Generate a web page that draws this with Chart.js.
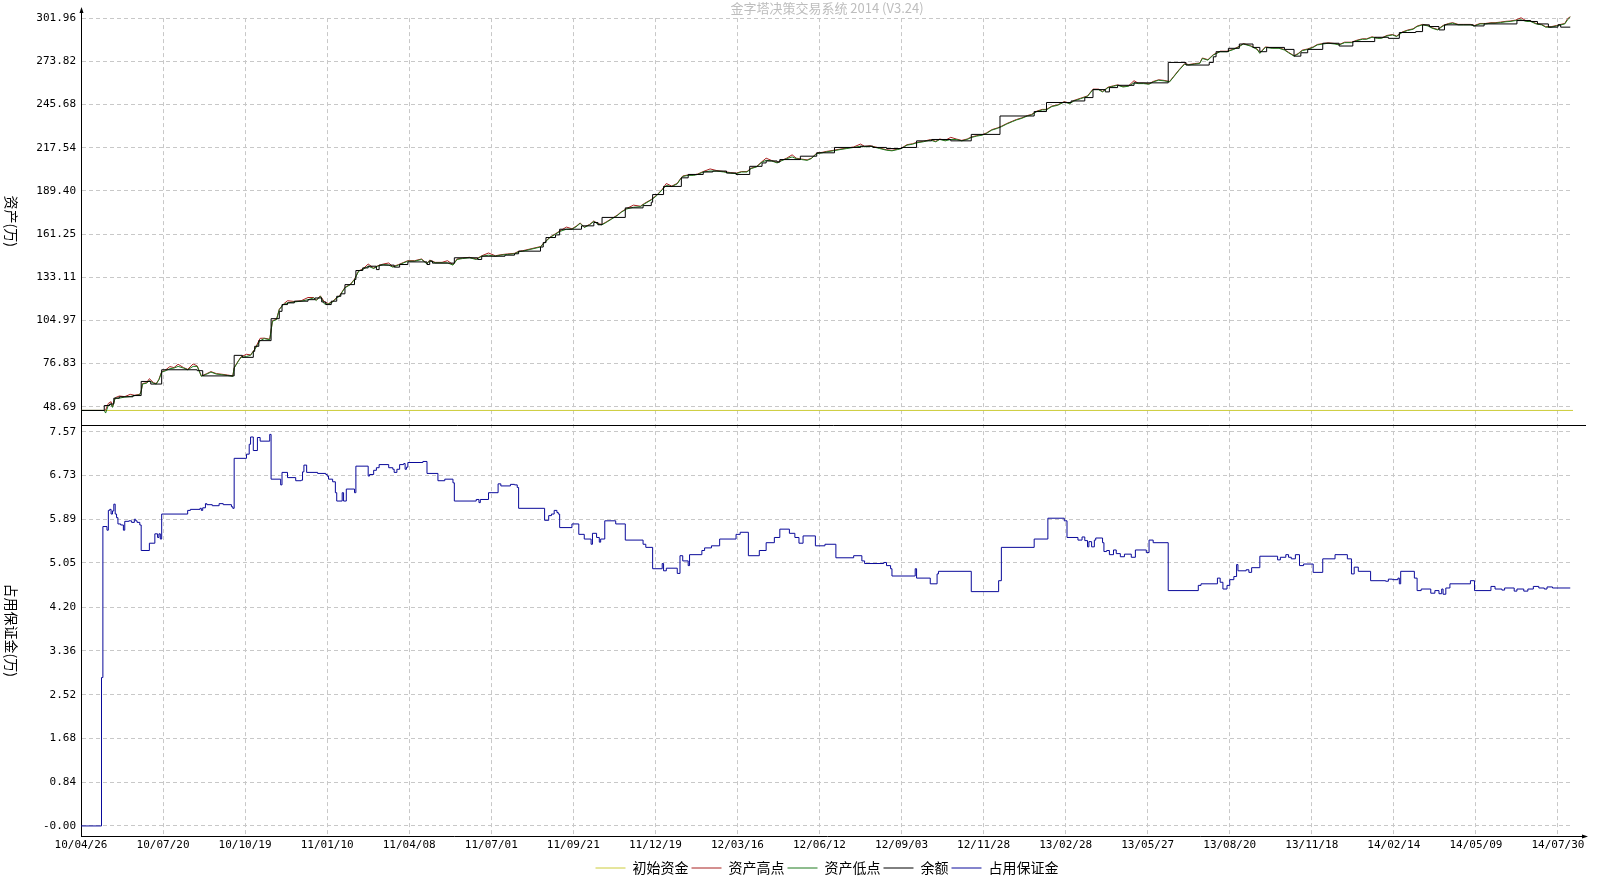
<!DOCTYPE html>
<html>
<head>
<meta charset="utf-8">
<script src="https://cdn.jsdelivr.net/npm/chart.js@4.4.1/dist/chart.umd.min.js"></script>
<style>
  html, body { margin: 0; padding: 0; background: #fff; }
  #wrap { width: 1597px; height: 880px; }
</style>
</head>
<body>
<div id="wrap"><canvas id="equityChart" width="1597" height="880"></canvas></div>
<script>
// ---- chart data (trading-day index on x) ----
const chartTitle = '金字塔决策交易系统 2014 (V3.24)';
const topAxisTitle = '资产(万)';
const botAxisTitle = '占用保证金(万)';
const seriesNames = ['初始资金', '资产高点', '资产低点', '余额', '占用保证金'];

const dateLabels = ['10/04/26', '10/07/20', '10/10/19', '11/01/10', '11/04/08', '11/07/01', '11/09/21',
  '11/12/19', '12/03/16', '12/06/12', '12/09/03', '12/11/28', '13/02/28', '13/05/27', '13/08/20',
  '13/11/18', '14/02/14', '14/05/09', '14/07/30'];
const tickDays = [0, 60, 120, 180, 240, 300, 360, 420, 480, 540, 600, 660, 720, 780, 840, 900, 960, 1020, 1080];
const lastDay = 1091;

const topTickLabels = ['48.69', '76.83', '104.97', '133.11', '161.25', '189.40', '217.54', '245.68', '273.82', '301.96'];
const botTickLabels = ['-0.00', '0.84', '1.68', '2.52', '3.36', '4.20', '5.05', '5.89', '6.73', '7.57'];

const initialCapital = 46.3;

const assetDays = [0, 17, 18, 20, 22, 23, 25, 28, 32, 36, 39, 43, 44, 45, 48, 50, 53, 55, 57, 59, 61, 65, 68, 71, 75, 78, 82, 85, 88, 92, 95, 99,
  103, 107, 111, 112, 115, 117, 121, 124, 127, 131, 134, 138, 140, 143, 145, 148, 151, 156, 161, 166, 170, 172, 175, 178, 181, 184, 187, 189,
  193, 197, 200, 203, 206, 210, 214, 217, 221, 225, 228, 232, 236, 239, 244, 249, 253, 255, 259, 264, 268, 272, 275, 279, 284, 289, 293, 298,
  303, 307, 312, 317, 320, 323, 336, 339, 343, 347, 350, 355, 359, 362, 365, 368, 372, 375, 378, 381, 384, 388, 392, 395, 399, 404, 409, 412,
  417, 421, 425, 428, 432, 436, 438, 440, 444, 448, 451, 455, 460, 465, 470, 475, 479, 483, 487, 490, 494, 498, 501, 505, 509, 512, 516, 520,
  523, 527, 531, 534, 538, 542, 545, 550, 555, 560, 565, 570, 573, 577, 581, 584, 589, 593, 597, 600, 604, 608, 611, 616, 621, 625, 628, 632,
  636, 640, 644, 648, 651, 655, 659, 662, 666, 670, 673, 677, 681, 684, 688, 692, 695, 699, 703, 706, 710, 714, 719, 723, 726, 731, 736, 740,
  744, 747, 751, 755, 758, 762, 766, 770, 773, 777, 781, 784, 788, 792, 796, 799, 803, 807, 810, 814, 818, 820, 824, 828, 833, 838, 843, 846,
  850, 855, 860, 862, 866, 871, 876, 880, 883, 887, 890, 893, 897, 901, 904, 908, 912, 917, 920, 924, 929, 933, 937, 940, 944, 948, 951, 955,
  959, 962, 966, 970, 974, 977, 981, 985, 988, 992, 996, 1000, 1003, 1007, 1011, 1016, 1019, 1023, 1027, 1031, 1034, 1038, 1042, 1045, 1049,
  1053, 1057, 1060, 1064, 1068, 1071, 1075, 1079, 1082, 1085, 1087, 1089];

const assetLow = [46.3, 46.3, 44.6, 49.6, 50.4, 48.3, 54.3, 54.3, 55.0, 55.4, 55.9, 56.5, 58.7, 63.5, 64.1, 65.7, 64.1, 63.5, 66.3, 71.3, 71.8,
  73.5, 73.9, 75.0, 73.9, 72.8, 75.0, 75.0, 68.5, 70.0, 71.3, 70.0, 69.6, 69.1, 68.5, 73.9, 78.3, 80.9, 81.5, 82.2, 85.9, 91.8, 93.1, 92.4,
  104.4, 105.5, 112.0, 115.3, 116.4, 117.0, 117.5, 118.5, 119.6, 117.9, 120.7, 115.7, 115.7, 117.0, 119.6, 120.7, 126.2, 128.3, 131.6, 137.0,
  138.1, 140.3, 138.8, 140.3, 141.4, 141.0, 139.7, 141.0, 142.5, 143.6, 143.6, 144.7, 141.8, 144.0, 142.5, 142.5, 142.5, 141.0, 144.7, 145.3,
  145.8, 144.7, 146.8, 147.5, 146.8, 147.5, 148.0, 148.4, 149.7, 150.1, 152.8, 155.7, 159.0, 161.2, 162.9, 164.4, 164.4, 166.0, 168.2, 165.5,
  167.3, 169.5, 167.7, 167.3, 168.8, 171.0, 173.2, 175.4, 177.6, 178.7, 179.1, 180.9, 183.5, 186.3, 190.1, 192.9, 192.2, 194.0, 196.6, 198.8,
  199.5, 199.5, 200.1, 201.7, 202.3, 202.3, 201.7, 201.0, 200.6, 201.7, 201.7, 203.9, 205.0, 208.2, 209.3, 208.9, 207.6, 208.9, 210.4, 211.5,
  210.4, 209.8, 209.3, 210.4, 213.7, 214.2, 214.8, 215.5, 216.3, 217.0, 217.7, 218.5, 218.1, 218.5, 217.7, 217.0, 215.9, 215.5, 216.3, 217.0,
  219.2, 219.8, 220.7, 221.4, 222.5, 221.4, 222.9, 222.0, 222.9, 222.9, 222.0, 222.9, 224.2, 225.1, 225.7, 226.8, 229.0, 230.1, 231.2, 233.0,
  234.5, 235.6, 236.7, 238.2, 238.9, 241.1, 242.2, 242.2, 244.4, 245.1, 247.3, 246.2, 248.0, 249.5, 251.0, 255.4, 255.4, 253.9, 256.7, 257.6,
  258.2, 257.1, 257.6, 259.8, 259.3, 259.3, 258.9, 260.4, 261.5, 261.1, 260.4, 263.7, 268.1, 272.0, 271.4, 272.0, 272.4, 275.7, 274.6, 277.9,
  280.1, 280.1, 281.6, 282.9, 285.1, 283.8, 281.6, 279.0, 282.9, 282.3, 282.3, 281.2, 279.4, 277.2, 278.6, 280.8, 281.6, 282.9, 284.5, 285.1,
  285.6, 285.1, 284.5, 286.0, 286.0, 287.3, 288.2, 288.2, 289.5, 288.8, 288.8, 290.4, 291.0, 290.0, 292.6, 293.9, 294.7, 296.5, 297.6, 296.9,
  295.4, 294.3, 296.9, 298.2, 298.7, 297.6, 297.6, 297.6, 296.9, 298.2, 298.2, 298.7, 298.7, 299.1, 299.6, 299.8, 300.4, 300.9, 299.8, 299.8,
  298.2, 297.6, 296.1, 296.1, 296.9, 297.6, 298.2, 300.9, 302.6];

const assetHigh = [46.3, 46.3, 46.5, 50.9, 52.0, 48.6, 54.6, 55.7, 55.3, 56.8, 56.2, 56.8, 59.0, 63.8, 64.4, 67.0, 64.4, 63.8, 66.6, 71.6, 72.1,
  74.9, 74.2, 76.4, 74.2, 73.1, 76.6, 75.3, 68.8, 70.3, 71.6, 70.3, 69.9, 69.4, 68.8, 74.2, 78.6, 81.2, 82.9, 82.5, 86.2, 93.3, 93.4, 92.7,
  104.7, 105.8, 112.3, 115.6, 117.8, 117.3, 117.8, 119.9, 119.9, 118.2, 121.0, 117.0, 116.0, 117.3, 119.9, 121.0, 126.5, 128.6, 131.9, 137.3,
  138.4, 141.7, 139.1, 140.6, 141.7, 142.4, 140.0, 141.3, 142.8, 143.9, 143.9, 145.0, 142.1, 144.3, 142.8, 142.8, 143.9, 141.3, 145.0, 145.6,
  146.1, 145.0, 147.1, 148.9, 147.1, 147.8, 148.3, 148.7, 150.0, 150.4, 153.1, 156.0, 159.3, 161.5, 163.2, 165.8, 164.7, 166.3, 168.5, 165.8,
  167.6, 169.8, 168.0, 167.6, 169.1, 171.3, 173.5, 175.7, 177.9, 180.1, 179.4, 181.2, 183.8, 186.6, 190.4, 194.2, 192.5, 194.3, 196.9, 199.1,
  199.8, 199.8, 200.4, 202.0, 203.7, 202.6, 202.0, 201.3, 200.9, 202.0, 202.0, 204.2, 205.3, 208.5, 210.7, 209.2, 207.9, 209.2, 210.7, 212.9,
  210.7, 210.1, 209.6, 210.7, 214.0, 214.5, 215.1, 215.8, 216.6, 217.3, 218.0, 219.9, 218.4, 218.8, 218.0, 217.3, 216.2, 215.8, 216.6, 217.3,
  219.5, 220.1, 221.0, 221.7, 222.8, 221.7, 223.2, 222.3, 224.3, 223.2, 222.3, 223.2, 224.5, 225.4, 226.0, 227.1, 229.3, 230.4, 231.5, 233.3,
  234.8, 235.9, 237.0, 238.5, 239.2, 241.4, 242.5, 242.5, 244.7, 245.4, 247.6, 246.5, 248.3, 249.8, 251.3, 255.7, 255.7, 254.2, 257.0, 257.9,
  258.5, 257.4, 257.9, 261.2, 259.6, 259.6, 259.2, 260.7, 261.8, 261.4, 260.7, 264.0, 268.4, 272.3, 271.7, 272.3, 272.7, 276.0, 274.9, 278.2,
  280.4, 280.4, 281.9, 283.2, 285.4, 284.1, 281.9, 279.3, 283.2, 282.6, 282.6, 281.5, 279.7, 277.5, 278.9, 281.1, 281.9, 283.2, 284.8, 285.4,
  285.9, 285.4, 284.8, 286.3, 286.3, 287.6, 288.5, 288.5, 289.8, 289.1, 289.1, 290.7, 291.3, 290.3, 292.9, 294.2, 295.0, 296.8, 297.9, 297.2,
  295.7, 294.6, 297.2, 298.5, 299.0, 297.9, 297.9, 297.9, 297.2, 298.5, 298.5, 299.0, 299.0, 299.4, 299.9, 300.1, 300.7, 302.2, 300.1, 300.1,
  298.5, 297.9, 296.4, 296.4, 297.2, 297.9, 298.5, 301.6, 302.9];

const balanceDays = [0, 17, 21, 24, 28, 38, 44, 51, 59, 85, 89, 112, 118, 126, 127, 130, 139, 145, 147, 151, 156, 166, 171, 176, 179, 183, 187,
  190, 193, 200, 201, 206, 210, 216, 218, 229, 233, 239, 253, 255, 257, 273, 290, 293, 310, 317, 320, 336, 338, 340, 347, 350, 366, 375, 378,
  381, 398, 411, 417, 418, 426, 439, 444, 455, 462, 472, 479, 489, 498, 501, 509, 511, 526, 538, 551, 570, 579, 589, 600, 611, 622, 636, 651,
  672, 697, 706, 724, 734, 740, 749, 752, 758, 770, 795, 808, 825, 828, 830, 839, 847, 857, 862, 867, 880, 887, 892, 897, 908, 920, 930, 946,
  956, 964, 976, 981, 986, 993, 997, 1018, 1026, 1050, 1060, 1065, 1073, 1080, 1082, 1089];
const balanceValues = [46.3, 49.5, 50.5, 54.3, 55.2, 56.0, 65.2, 63.5, 72.8, 72.2, 68.8, 82.2, 80.9, 84.8, 88.1, 91.8, 106.1, 110.9, 115.3,
  116.4, 117.5, 118.5, 119.6, 117.0, 115.3, 117.5, 120.7, 122.3, 128.3, 131.6, 137.5, 139.2, 140.3, 138.1, 141.0, 139.7, 141.4, 143.1, 141.4,
  143.6, 142.3, 145.8, 144.7, 146.8, 147.5, 148.4, 150.1, 152.8, 155.7, 159.0, 160.7, 164.4, 166.6, 168.8, 167.3, 172.1, 178.3, 179.8, 182.0,
  187.0, 192.3, 197.9, 200.1, 201.7, 202.3, 201.0, 200.1, 205.4, 207.6, 208.9, 208.2, 209.8, 212.0, 214.2, 217.7, 218.5, 217.7, 217.0, 217.7,
  222.0, 222.9, 222.0, 226.2, 238.2, 241.1, 247.0, 248.0, 250.2, 255.4, 253.9, 256.7, 258.2, 259.8, 273.1, 271.4, 273.1, 276.8, 280.1, 282.3,
  285.1, 282.9, 280.1, 282.9, 281.6, 277.2, 279.4, 281.6, 285.6, 283.8, 286.7, 289.5, 288.8, 292.6, 293.2, 297.6, 296.5, 294.3, 297.6, 296.9,
  298.2, 300.4, 299.8, 298.2, 296.1, 297.6, 296.1, 296.1];

const marginDays = [0, 15, 16, 19, 20, 21, 22, 23, 24, 25, 26, 27, 29, 31, 32, 35, 37, 39, 40, 41, 43, 44, 50, 54, 56, 57, 58, 59, 78, 80, 87,
  88, 89, 91, 92, 96, 101, 104, 110, 111, 112, 121, 123, 124, 126, 129, 131, 138, 139, 146, 147, 151, 157, 161, 162, 163, 165, 173, 179, 180,
  181, 184, 186, 187, 191, 192, 194, 200, 201, 210, 211, 214, 216, 218, 225, 228, 229, 231, 233, 236, 237, 238, 239, 250, 253, 261, 266, 272,
  273, 289, 291, 292, 298, 305, 307, 314, 317, 319, 320, 339, 342, 344, 346, 348, 349, 350, 359, 364, 368, 373, 374, 377, 379, 380, 383, 391,
  398, 411, 413, 418, 425, 426, 428, 436, 438, 440, 444, 445, 454, 456, 461, 467, 479, 482, 488, 496, 501, 507, 511, 518, 522, 525, 528, 537,
  544, 552, 565, 571, 573, 587, 589, 592, 593, 610, 611, 621, 626, 627, 651, 671, 673, 697, 707, 719, 721, 729, 732, 734, 736, 737, 739, 741,
  742, 747, 748, 750, 752, 755, 757, 760, 763, 768, 771, 779, 781, 784, 795, 817, 819, 831, 833, 835, 838, 840, 843, 845, 846, 852, 854, 856,
  862, 875, 877, 881, 883, 885, 888, 891, 894, 901, 908, 917, 926, 929, 931, 934, 943, 954, 956, 959, 963, 964, 965, 975, 977, 980, 987, 990,
  993, 995, 996, 998, 1001, 1016, 1019, 1031, 1034, 1039, 1041, 1048, 1050, 1055, 1058, 1062, 1066, 1070, 1072, 1076, 1089];
const marginValues = [0.00, 2.85, 5.75, 5.68, 6.06, 6.08, 5.99, 6.05, 6.18, 5.99, 5.92, 5.80, 5.78, 5.68, 5.85, 5.86, 5.83, 5.89, 5.86, 5.83,
  5.78, 5.29, 5.43, 5.61, 5.54, 5.61, 5.51, 5.99, 6.06, 6.08, 6.10, 6.06, 6.11, 6.19, 6.17, 6.15, 6.19, 6.17, 6.13, 6.10, 7.06, 7.14, 7.33,
  7.47, 7.21, 7.46, 7.39, 7.52, 6.66, 6.55, 6.79, 6.69, 6.63, 6.64, 6.80, 6.93, 6.79, 6.77, 6.75, 6.72, 6.66, 6.61, 6.40, 6.24, 6.40, 6.24,
  6.47, 6.40, 6.91, 6.72, 6.75, 6.83, 6.88, 6.94, 6.88, 6.85, 6.79, 6.85, 6.94, 6.96, 6.85, 6.89, 6.98, 7.00, 6.77, 6.63, 6.66, 6.59, 6.24,
  6.27, 6.21, 6.27, 6.40, 6.57, 6.53, 6.56, 6.55, 6.50, 6.10, 5.87, 5.96, 5.99, 6.06, 6.02, 5.99, 5.73, 5.80, 5.60, 5.51, 5.41, 5.62, 5.54,
  5.45, 5.51, 5.86, 5.80, 5.49, 5.41, 5.35, 4.94, 5.04, 4.90, 4.95, 4.85, 5.19, 5.09, 5.00, 5.21, 5.29, 5.34, 5.38, 5.51, 5.60, 5.64, 5.19,
  5.29, 5.44, 5.54, 5.70, 5.62, 5.54, 5.43, 5.57, 5.38, 5.41, 5.15, 5.19, 5.09, 5.04, 5.06, 5.00, 4.94, 4.80, 4.94, 4.76, 4.65, 4.84, 4.89,
  4.50, 4.71, 5.35, 5.51, 5.91, 5.86, 5.54, 5.49, 5.55, 5.48, 5.36, 5.46, 5.36, 5.49, 5.53, 5.44, 5.27, 5.29, 5.21, 5.30, 5.23, 5.17, 5.22,
  5.16, 5.30, 5.25, 5.49, 5.44, 4.52, 4.62, 4.65, 4.76, 4.68, 4.55, 4.62, 4.73, 4.79, 5.02, 4.90, 4.92, 4.87, 4.96, 5.18, 5.11, 5.16, 5.21,
  5.16, 5.13, 5.21, 5.00, 5.03, 4.87, 5.13, 5.21, 5.13, 4.84, 4.97, 4.89, 4.71, 4.70, 4.74, 4.73, 4.76, 4.65, 4.89, 4.76, 4.52, 4.55, 4.47,
  4.52, 4.46, 4.55, 4.45, 4.57, 4.65, 4.71, 4.52, 4.60, 4.55, 4.53, 4.57, 4.51, 4.55, 4.51, 4.55, 4.60, 4.57, 4.55, 4.59, 4.57, 4.57];

// ---- helpers ----
function pairs(xs, ys) {
    return xs.map((x, i) => ({ x: x, y: ys[i] }));
}

const monoFont = { family: '"DejaVu Sans Mono", monospace', size: 11 };
const cjkFamily = '"Noto Sans CJK SC", sans-serif';
const gridColor = '#c8c8c8';

// decorations: axis arrows, panel separator, rotated axis titles
const decorPlugin = {
    id: 'decor',
    afterDraw(chart) {
        const { ctx, chartArea } = chart;
        const yT = chart.scales.yTop;
        const yB = chart.scales.yBot;
        const ax = Math.round(chartArea.left) + 0.5;
        const by = Math.round(chartArea.bottom) + 0.5;
        const sy = Math.round(yB.top) + 0.5;
        const rightEnd = chartArea.right + 13;

        ctx.save();
        ctx.strokeStyle = '#000';
        ctx.fillStyle = '#000';
        ctx.lineWidth = 1;

        // line between the two panels
        ctx.beginPath();
        ctx.moveTo(ax, sy);
        ctx.lineTo(rightEnd, sy);
        ctx.stroke();

        // axis extensions + arrow heads
        ctx.beginPath();
        ctx.moveTo(ax, chartArea.top);
        ctx.lineTo(ax, chartArea.top - 9);
        ctx.moveTo(chartArea.right, by);
        ctx.lineTo(rightEnd, by);
        ctx.stroke();

        ctx.beginPath();
        ctx.moveTo(ax, chartArea.top - 11);
        ctx.lineTo(ax - 2, chartArea.top - 5);
        ctx.lineTo(ax + 2, chartArea.top - 5);
        ctx.closePath();
        ctx.fill();

        ctx.beginPath();
        ctx.moveTo(rightEnd + 2, by);
        ctx.lineTo(rightEnd - 4, by - 2);
        ctx.lineTo(rightEnd - 4, by + 2);
        ctx.closePath();
        ctx.fill();

        // vertical axis titles, reading top to bottom
        ctx.font = '14px ' + cjkFamily;
        ctx.textAlign = 'center';
        ctx.textBaseline = 'middle';
        [[yT, topAxisTitle], [yB, botAxisTitle]].forEach(([sc, txt]) => {
            ctx.save();
            ctx.translate(11, (sc.top + sc.bottom) / 2);
            ctx.rotate(Math.PI / 2);
            ctx.fillText(txt, 0, 0);
            ctx.restore();
        });
        ctx.restore();
    }
};

const ctx = document.getElementById('equityChart').getContext('2d');
new Chart(ctx, {
    type: 'line',
    data: {
        datasets: [
            {
                label: seriesNames[0],
                data: [{ x: 0, y: initialCapital }, { x: lastDay, y: initialCapital }],
                borderColor: '#cccc3a',
                yAxisID: 'yTop',
                order: 4
            },
            {
                label: seriesNames[1],
                data: pairs(assetDays, assetHigh),
                borderColor: '#a82020',
                yAxisID: 'yTop',
                order: 3
            },
            {
                label: seriesNames[2],
                data: pairs(assetDays, assetLow),
                borderColor: '#1f7a1f',
                yAxisID: 'yTop',
                order: 2
            },
            {
                label: seriesNames[3],
                data: pairs(balanceDays, balanceValues),
                borderColor: '#000000',
                stepped: true,
                yAxisID: 'yTop',
                order: 1
            },
            {
                label: seriesNames[4],
                data: pairs(marginDays, marginValues),
                borderColor: '#0a0a9a',
                stepped: true,
                yAxisID: 'yBot',
                order: 0
            }
        ]
    },
    options: {
        responsive: false,
        animation: false,
        devicePixelRatio: 1,
        elements: {
            point: { radius: 0 },
            line: { borderWidth: 1, tension: 0, fill: false }
        },
        datasets: { line: { clip: 4 } },
        layout: { padding: { left: 0, right: 24, top: 0, bottom: -5 } },
        plugins: {
            title: {
                display: true,
                text: chartTitle,
                color: '#bdbdbd',
                fullSize: false,
                padding: { top: 0, bottom: 2.5 },
                font: { family: cjkFamily, size: 13, weight: 'normal', lineHeight: 1.2 }
            },
            legend: {
                position: 'bottom',
                fullSize: false,
                labels: {
                    usePointStyle: true,
                    pointStyle: 'line',
                    pointStyleWidth: 30,
                    padding: 3,
                    color: '#000',
                    font: { family: cjkFamily, size: 14 },
                    sort: (a, b) => a.datasetIndex - b.datasetIndex
                }
            },
            tooltip: { enabled: false }
        },
        scales: {
            x: {
                type: 'linear',
                position: 'bottom',
                min: 0,
                max: lastDay,
                afterBuildTicks: s => { s.ticks = tickDays.map(v => ({ value: v })); },
                afterFit: s => { s.height = 22; },
                ticks: {
                    autoSkip: false,
                    maxRotation: 0,
                    padding: 3,
                    color: '#000',
                    font: monoFont,
                    callback: (v, i) => dateLabels[i]
                },
                grid: { color: gridColor, drawTicks: false },
                border: { color: '#000', width: 1, dash: [4, 3] }
            },
            yTop: {
                type: 'linear',
                position: 'left',
                stack: 'panels',
                stackWeight: 405,
                weight: 2,
                min: 37.11,
                max: 302.0,
                afterBuildTicks: s => { s.ticks = topTickLabels.map(t => ({ value: Number(t) })); },
                afterFit: s => { s.width = 81; },
                ticks: {
                    padding: 5,
                    color: '#000',
                    font: monoFont,
                    callback: (v, i) => topTickLabels[i]
                },
                grid: { color: gridColor, drawTicks: false },
                border: { color: '#000', width: 1, dash: [4, 3] }
            },
            yBot: {
                type: 'linear',
                position: 'left',
                stack: 'panels',
                stackWeight: 410,
                weight: 1,
                min: -0.193,
                max: 7.709,
                afterBuildTicks: s => { s.ticks = botTickLabels.map(t => ({ value: Number(t) })); },
                afterFit: s => { s.width = 81; },
                ticks: {
                    padding: 5,
                    color: '#000',
                    font: monoFont,
                    callback: (v, i) => botTickLabels[i]
                },
                grid: { color: gridColor, drawTicks: false },
                border: { color: '#000', width: 1, dash: [4, 3] }
            }
        }
    },
    plugins: [decorPlugin]
});
</script>
</body>
</html>
